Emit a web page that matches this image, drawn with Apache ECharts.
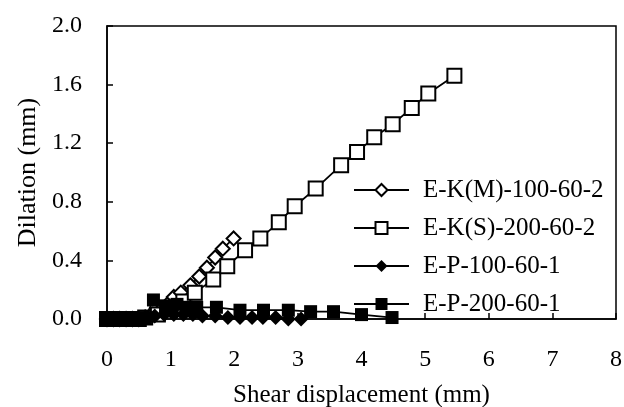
<!DOCTYPE html>
<html><head><meta charset="utf-8">
<script src="https://cdn.jsdelivr.net/npm/echarts@6/dist/echarts.min.js"></script>
<style>html,body{margin:0;padding:0;background:#fff}#c{width:624px;height:407px}</style>
</head><body><div id="c"></div>
<script>
var seriesNames = ["E-K(M)-100-60-2", "E-K(S)-200-60-2", "E-P-100-60-1", "E-P-200-60-1"];
var ekmX = [0,0.1,0.2,0.3,0.4,0.5,0.6,0.72,0.84,0.95,1.05,1.16,1.31,1.45,1.57,1.70,1.82,1.99];
var ekmY = [0,0,0,0,0,0,0.01,0.03,0.06,0.10,0.15,0.18,0.23,0.29,0.35,0.42,0.48,0.55];
var eksX = [0,0.1,0.2,0.3,0.4,0.5,0.6,0.8,1.0,1.2,1.38,1.67,1.89,2.17,2.41,2.70,2.95,3.28,3.68,3.93,4.20,4.49,4.79,5.05,5.46];
var eksY = [0,0,0,0,0,0,0.01,0.03,0.07,0.12,0.18,0.27,0.36,0.47,0.55,0.66,0.77,0.89,1.05,1.14,1.24,1.33,1.44,1.54,1.66];
var ep1X = [0,0.1,0.2,0.3,0.4,0.5,0.6,0.75,0.9,1.05,1.2,1.35,1.5,1.7,1.9,2.09,2.28,2.45,2.65,2.85,3.05];
var ep1Y = [0,0,0,0,0,0,0.01,0.02,0.03,0.03,0.03,0.03,0.02,0.02,0.01,0.01,0.01,0.01,0.01,0,0];
var ep2X = [0,0.1,0.2,0.3,0.4,0.5,0.6,0.73,0.92,1.1,1.25,1.41,1.72,2.09,2.46,2.85,3.2,3.56,4.0,4.48];
var ep2Y = [0,0,0,0,0,0,0.01,0.13,0.09,0.1,0.08,0.08,0.08,0.06,0.06,0.06,0.05,0.05,0.03,0.01];
var xTicks = [0,1,2,3,4,5,6,7,8];
var yTicks = [0,0.4,0.8,1.2,1.6,2.0];

function pairs(xs, ys){ return xs.map(function(x,i){ return [x, ys[i]]; }); }
var FONT = '"Liberation Serif","Times New Roman",serif';
var chart = echarts.init(document.getElementById('c'), null, {renderer:'canvas'});
function mk(name, xs, ys, symbol, filled, size){
  return {
    name: name, type: 'line', data: pairs(xs, ys),
    symbol: symbol, symbolSize: size, showAllSymbol: true,
    lineStyle: {color:'#000', width: 1.8},
    itemStyle: {color: filled ? '#000' : '#fff', borderColor:'#000', borderWidth: filled ? 0 : 2},
    emphasis: {disabled: true}, animation: false, z: filled ? 3 : 2
  };
}
chart.setOption({
  animation: false,
  backgroundColor: '#fff',
  grid: {left: 107, right: 8, top: 26, bottom: 88, outerBoundsMode: 'none', containLabel: false, show: true, borderColor: '#000', borderWidth: 1.5, backgroundColor: 'transparent'},
  legend: {
    orient: 'vertical', left: 348, top: 172,
    itemWidth: 55, itemHeight: 15, itemGap: 12,
    textStyle: {fontFamily: FONT, fontSize: 25, color: '#000', lineHeight: 26, padding: [0,0,0,9]},
    data: seriesNames
  },
  xAxis: {
    type: 'value', min: xTicks[0], max: xTicks[xTicks.length-1], interval: 1,
    name: 'Shear displacement (mm)', nameLocation: 'middle', nameGap: 64,
    nameTextStyle: {fontFamily: FONT, fontSize: 25, color: '#000'},
    axisLine: {show: true, lineStyle: {color: '#000', width: 1.5}},
    axisTick: {show: true, inside: true, length: 6, lineStyle: {color: '#000', width: 1.5}},
    axisLabel: {fontFamily: FONT, fontSize: 24, color: '#000', margin: 29},
    splitLine: {show: false}
  },
  yAxis: {
    type: 'value', min: yTicks[0], max: yTicks[yTicks.length-1], interval: 0.4,
    name: 'Dilation (mm)', nameLocation: 'middle', nameGap: 63,
    nameTextStyle: {fontFamily: FONT, fontSize: 26, color: '#000'},
    axisLine: {show: true, lineStyle: {color: '#000', width: 1.5}},
    axisTick: {show: true, inside: true, length: 6, lineStyle: {color: '#000', width: 1.5}},
    axisLabel: {fontFamily: FONT, fontSize: 24, color: '#000', margin: 25, formatter: function(v){ return v.toFixed(1); }},
    splitLine: {show: false}
  },
  series: [
    mk(seriesNames[0], ekmX, ekmY, 'diamond', false, 14),
    mk(seriesNames[1], eksX, eksY, 'rect', false, 14),
    mk(seriesNames[2], ep1X, ep1Y, 'diamond', true, 15),
    mk(seriesNames[3], ep2X, ep2Y, 'rect', true, 13)
  ]
});
</script></body></html>
